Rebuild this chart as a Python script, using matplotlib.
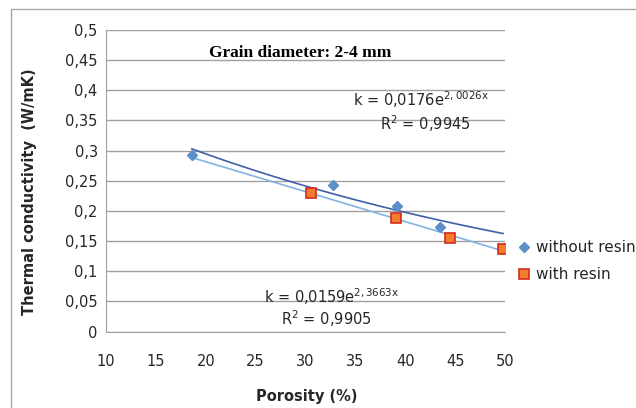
import numpy as np
import matplotlib
matplotlib.use("Agg")
import matplotlib.pyplot as plt
from matplotlib.patches import Rectangle

# Values
porosity_nr = [18.6, 32.8, 39.2, 43.5]
k_nr = [0.293, 0.2434, 0.2073, 0.173]
porosity_r = [30.6, 39.1, 44.5, 49.8]
k_r = [0.2296, 0.188, 0.155, 0.1366]

xticks = [10, 15, 20, 25, 30, 35, 40, 45, 50]
yticks = [0, 0.05, 0.1, 0.15, 0.2, 0.25, 0.3, 0.35, 0.4, 0.45, 0.5]
ytick_labels = ['0', '0,05', '0,1', '0,15', '0,2', '0,25', '0,3', '0,35', '0,4', '0,45', '0,5']

fnt = 'DejaVu Sans'
txt_col = '#262626'
plt.rcParams['mathtext.fontset'] = 'dejavusans'

fig = plt.figure(figsize=(6.36, 4.08), dpi=100)
ax = fig.add_axes([106/636, 1 - 331.5/408, (505-106)/636, (331.5-30)/408])

# chart frame
fig.patches.append(Rectangle((11/636, -0.1), 1.2, 1 - 9/408 + 0.1, transform=fig.transFigure,
                             fill=False, edgecolor='#a6a6a6', linewidth=1.0))

# trendlines: exponential for the first series, linear for the second
xx = np.linspace(min(porosity_nr + porosity_r), max(porosity_nr + porosity_r), 100)
b, a = np.polyfit(porosity_nr, np.log(k_nr), 1)
ax.plot(xx, np.exp(a + b * xx), color='#3f5fa8', linewidth=1.2, zorder=3)
m, c = np.polyfit(porosity_r, k_r, 1)
ax.plot(xx, m * xx + c, color='#80b4e2', linewidth=1.2, zorder=3)

ax.plot(porosity_nr, k_nr, linestyle='none', marker='D', markersize=5.5,
        color='#5b8fc9', markeredgecolor='#5b8fc9', label='without resin', zorder=4)
ax.plot(porosity_r, k_r, linestyle='none', marker='s', markersize=7.5,
        markerfacecolor='#f07e2e', markeredgecolor='#d42a1e', markeredgewidth=1.2,
        label='with resin', zorder=5)

ax.set_xlim(10, 50)
ax.set_ylim(0, 0.5)
ax.set_xticks(xticks)
ax.set_yticks(yticks)
ax.set_yticklabels(ytick_labels)
ax.grid(axis='y', color='#a0a0a0', linewidth=1.0)
ax.set_axisbelow(True)
for s in ['top', 'right']:
    ax.spines[s].set_visible(False)
ax.spines['left'].set_color('#a0a0a0')
ax.spines['bottom'].set_color('#a0a0a0')
ax.tick_params(length=0, labelsize=10.5, labelcolor=txt_col)
ax.tick_params(axis='x', pad=16)
ax.tick_params(axis='y', pad=6)
for lab in ax.get_xticklabels() + ax.get_yticklabels():
    lab.set_family(fnt)

ax.set_xlabel('Porosity (%)', fontsize=10.5, fontweight='bold', color=txt_col, family=fnt)
ax.xaxis.set_label_coords((307-106)/399, -(389-331.5)/301.5)
ax.set_ylabel('Thermal conductivity  (W/mK)', fontsize=10.5, fontweight='bold',
              color=txt_col, family=fnt)
ax.yaxis.set_label_coords(-(106-37)/399, (331.5-192)/301.5)

fig.text(300/636, 1 - 53/408, 'Grain diameter: 2-4 mm', ha='center', va='center',
         fontsize=12.5, fontweight='bold', family='Liberation Serif', color='black')

fig.text(421/636, 1 - 100/408, r'k = 0,0176e$^{\mathrm{2,0026x}}$', ha='center', va='center',
         fontsize=10.5, color=txt_col, family=fnt)
fig.text(425/636, 1 - 124/408, 'R$^2$ = 0,9945', ha='center', va='center',
         fontsize=10.5, color=txt_col, family=fnt)
fig.text(332/636, 1 - 297/408, r'k = 0,0159e$^{\mathrm{2,3663x}}$', ha='center', va='center',
         fontsize=10.5, color=txt_col, family=fnt)
fig.text(326/636, 1 - 319/408, 'R$^2$ = 0,9905', ha='center', va='center',
         fontsize=10.5, color=txt_col, family=fnt)

leg = fig.legend(loc='upper left', bbox_to_anchor=(513/636, 1 - 234/408), frameon=False,
                 fontsize=11, handlelength=0.6, handletextpad=0.5, labelspacing=0.8,
                 borderaxespad=0)
for t in leg.get_texts():
    t.set_color(txt_col)

fig.savefig('out.png', dpi=100)
